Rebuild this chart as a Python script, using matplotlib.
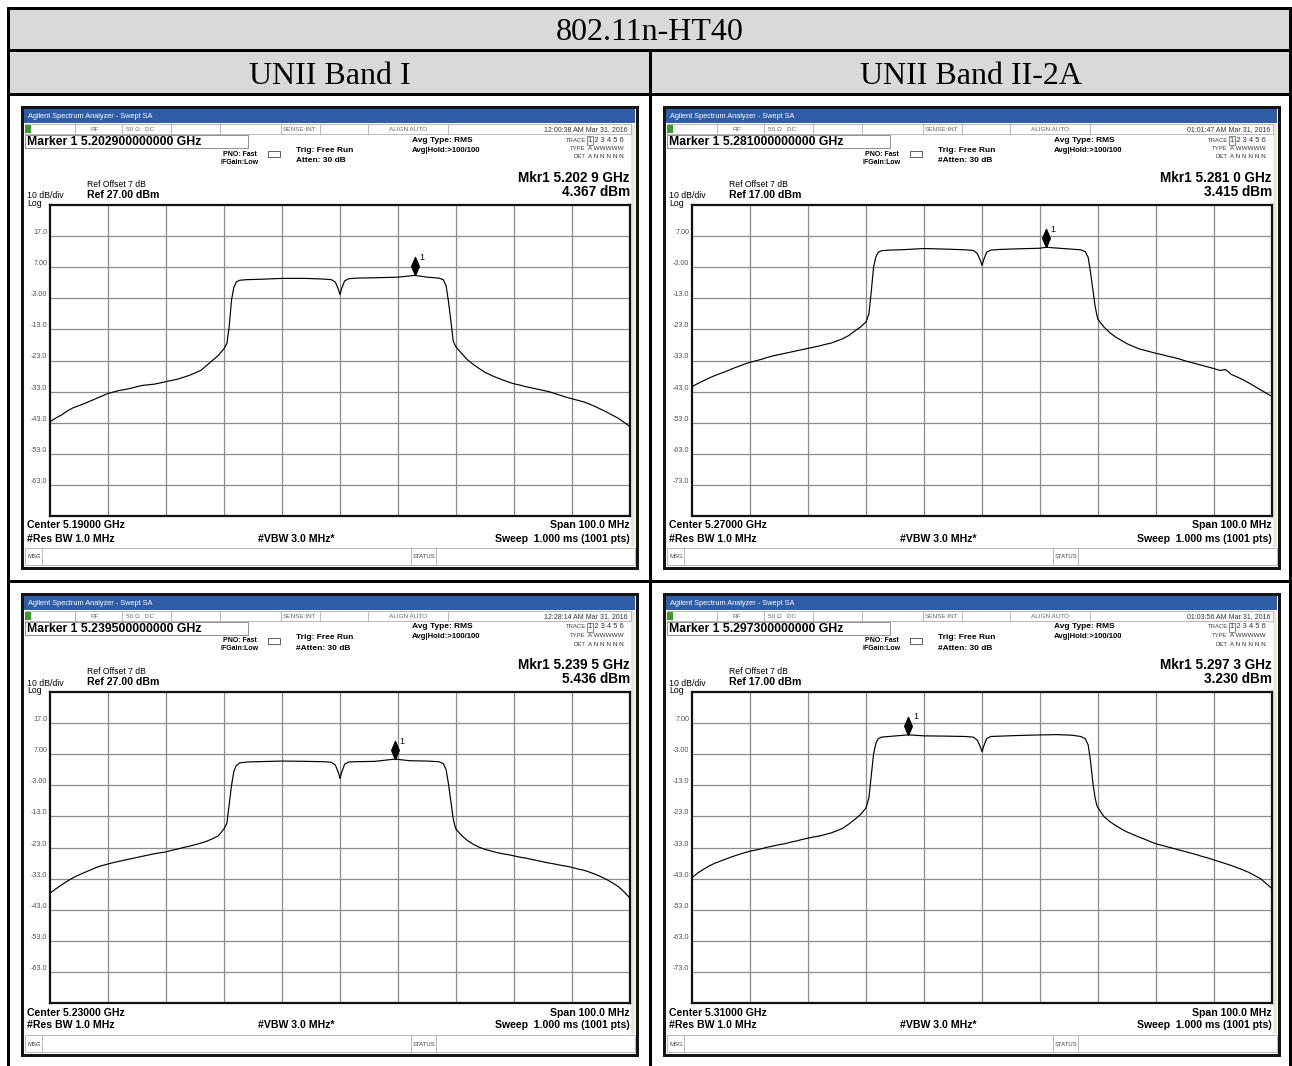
import matplotlib
matplotlib.use("Agg")
import matplotlib.pyplot as plt
from matplotlib.patches import Rectangle
from matplotlib.path import Path
import matplotlib.transforms as mtransforms

# ---------------- data ----------------
TABLE_TITLE = "802.11n-HT40"
BAND_TITLES = ["UNII Band I", "UNII Band II-2A"]

CENTERS_GHZ = [5.19, 5.27, 5.23, 5.31]
REF_LEVELS_DBM = [27.0, 17.0, 27.0, 17.0]
MARKER_FREQ_GHZ = [5.2029, 5.2810, 5.2395, 5.2973]
MARKER_LEVEL_DBM = [4.367, 3.415, 5.436, 3.230]
TIMESTAMPS = ["12:00:38 AM Mar 31, 2016", "01:01:47 AM Mar 31, 2016",
              "12:28:14 AM Mar 31, 2016", "01:03:56 AM Mar 31, 2016"]
ATTEN_TEXT = ["Atten: 30 dB", "#Atten: 30 dB", "#Atten: 30 dB", "#Atten: 30 dB"]
MARKER_TITLE = ["Marker 1 5.202900000000 GHz", "Marker 1 5.281000000000 GHz",
                "Marker 1 5.239500000000 GHz", "Marker 1 5.297300000000 GHz"]
MKR_FREQ_TEXT = ["Mkr1 5.202 9 GHz", "Mkr1 5.281 0 GHz", "Mkr1 5.239 5 GHz", "Mkr1 5.297 3 GHz"]
MKR_LEVEL_TEXT = ["4.367 dBm", "3.415 dBm", "5.436 dBm", "3.230 dBm"]
CENTER_TEXT = ["Center 5.19000 GHz", "Center 5.27000 GHz", "Center 5.23000 GHz", "Center 5.31000 GHz"]
REF_TEXT = ["Ref 27.00 dBm", "Ref 17.00 dBm", "Ref 27.00 dBm", "Ref 17.00 dBm"]

# trace readings (frequency offset from centre in MHz, level in dBm)
SKIRT_LEFT_MHZ = list(range(-50, -19))     # -50 ... -20, 1 MHz steps
SKIRT_RIGHT_MHZ = list(range(20, 51))      # 20 ... 50, 1 MHz steps

TL_SKIRT_LEFT = [-42.7, -41.5, -40.5, -39.2, -38.2, -37.5, -36.8, -36.0, -35.2, -34.4, -33.6, -33.1,
                 -32.6, -32.3, -31.9, -31.4, -31.0, -30.8, -30.6, -30.2, -29.8, -29.4, -29.0, -28.4,
                 -27.8, -27.0, -26.2, -24.6, -23.0, -21.4, -19.2]
TL_MID_MHZ = [-19.5, -19.1, -18.7, -18.3, -17.9, -17.3, -16, -14, -10, -6, -3, -1.5, -0.8, -0.3, 0,
              0.3, 0.8, 1.5, 3, 6, 10, 12.9, 15, 17, 17.8, 18.3, 18.7, 19.1, 19.5, 19.8]
TL_MID = [-17.5, -12.0, -3.5, 0.5, 2.2, 2.8, 3.0, 3.1, 3.4, 3.4, 3.2, 3.0, 2.2, 0.0, -1.8,
          0.2, 2.6, 3.3, 3.5, 3.6, 3.8, 4.37, 3.8, 3.5, 3.0, 1.0, -4.0, -10.0, -16.5, -18.0]
TL_SKIRT_RIGHT = [-18.6, -20.8, -22.8, -24.3, -25.6, -26.8, -27.7, -28.5, -29.2, -29.9, -30.5, -30.9,
                  -31.4, -31.8, -32.2, -32.6, -33.0, -33.6, -34.2, -34.8, -35.3, -35.8, -36.3, -37.0,
                  -37.8, -38.7, -39.6, -40.6, -41.6, -42.9, -44.3]

TR_SKIRT_LEFT = [-41.4, -40.4, -39.5, -38.6, -37.8, -37.1, -36.4, -35.6, -34.9, -34.2, -33.6, -33.1,
                 -32.6, -32.0, -31.5, -31.1, -30.7, -30.3, -29.9, -29.5, -29.1, -28.7, -28.3, -27.8,
                 -27.4, -26.7, -26.0, -25.0, -23.6, -22.3, -20.6]
TR_MID_MHZ = [-19.5, -19.1, -18.7, -18.3, -17.9, -17.3, -16, -14, -10, -6, -3, -1.5, -0.8, -0.3, 0,
              0.3, 0.8, 1.5, 3, 6, 10, 11, 14, 17, 17.8, 18.3, 18.7, 19.1, 19.5, 19.8]
TR_MID = [-18.0, -11.0, -3.0, 0.3, 1.8, 2.3, 2.5, 2.6, 3.0, 2.8, 2.6, 2.4, 1.4, -0.8, -2.4,
          -0.6, 1.8, 2.5, 2.7, 2.9, 3.1, 3.415, 3.0, 2.6, 2.0, 0.2, -4.5, -10.0, -15.5, -18.4]
TR_SKIRT_RIGHT = [-19.8, -22.2, -24.0, -25.4, -26.5, -27.6, -28.4, -29.2, -29.7, -30.2, -30.7, -31.1,
                  -31.6, -32.0, -32.5, -33.1, -33.6, -34.1, -34.6, -35.1, -35.6, -36.2, -35.9, -37.5,
                  -38.3, -39.2, -40.2, -41.3, -42.4, -43.5, -44.6]

BL_SKIRT_LEFT = [-37.7, -36.3, -35.0, -33.8, -32.7, -31.8, -31.0, -30.2, -29.4, -28.8, -28.3, -27.8,
                 -27.4, -27.0, -26.6, -26.2, -25.8, -25.4, -25.0, -24.7, -24.4, -23.9, -23.5, -23.0,
                 -22.6, -22.1, -21.6, -21.0, -20.2, -19.3, -17.0]
BL_MID_MHZ = [-19.5, -19.1, -18.7, -18.3, -17.9, -17.3, -16, -14, -10, -6, -3, -1.5, -0.8, -0.3, 0,
              0.3, 0.8, 1.5, 3, 6, 9.5, 12, 15, 17, 17.8, 18.3, 18.7, 19.1, 19.5, 19.8]
BL_MID = [-15.2, -9.0, -3.0, 1.5, 3.3, 4.2, 4.5, 4.6, 4.8, 4.7, 4.6, 4.4, 3.5, 1.2, -0.8,
          1.2, 3.8, 4.5, 4.6, 4.7, 5.436, 4.9, 4.8, 4.6, 4.0, 2.0, -2.5, -8.0, -13.5, -16.0]
BL_SKIRT_RIGHT = [-17.1, -19.2, -20.8, -22.0, -22.9, -23.6, -24.1, -24.6, -25.0, -25.3, -25.7, -26.1,
                  -26.4, -26.8, -27.2, -27.6, -28.0, -28.3, -28.7, -29.0, -29.4, -29.9, -30.3, -30.9,
                  -31.6, -32.4, -33.3, -34.4, -35.6, -37.3, -39.3]

BR_SKIRT_LEFT = [-42.7, -41.2, -40.0, -38.9, -38.0, -37.3, -36.6, -35.9, -35.3, -34.7, -34.2, -33.8,
                 -33.4, -32.9, -32.5, -32.1, -31.8, -31.3, -30.9, -30.4, -30.0, -29.6, -29.3, -28.8,
                 -28.3, -27.6, -26.8, -25.5, -24.1, -22.5, -20.3]
BR_MID_MHZ = [-19.5, -19.1, -18.7, -18.3, -17.9, -17.3, -16, -12.7, -10, -6, -3, -1.5, -0.8, -0.3, 0,
              0.3, 0.8, 1.5, 3, 6, 10, 13, 15.5, 17, 17.8, 18.3, 18.7, 19.1, 19.5, 19.8]
BR_MID = [-17.0, -10.0, -3.0, 0.5, 2.0, 2.5, 2.7, 3.23, 2.9, 2.8, 2.7, 2.5, 1.5, -0.6, -2.2,
          -0.4, 2.0, 2.7, 2.8, 3.0, 3.2, 3.3, 3.1, 2.7, 2.0, 0.0, -5.0, -12.0, -17.0, -19.5]
BR_SKIRT_RIGHT = [-20.2, -23.0, -24.6, -25.9, -27.0, -28.0, -28.8, -29.6, -30.3, -31.1, -31.8, -32.3,
                  -32.8, -33.3, -33.8, -34.3, -34.8, -35.3, -35.9, -36.4, -37.0, -37.6, -38.2, -38.8,
                  -39.5, -40.2, -41.0, -42.0, -43.0, -44.6, -46.2]

MID_OFFSETS = [TL_MID_MHZ, TR_MID_MHZ, BL_MID_MHZ, BR_MID_MHZ]
LEFT_LEVELS = [TL_SKIRT_LEFT, TR_SKIRT_LEFT, BL_SKIRT_LEFT, BR_SKIRT_LEFT]
MID_LEVELS = [TL_MID, TR_MID, BL_MID, BR_MID]
RIGHT_LEVELS = [TL_SKIRT_RIGHT, TR_SKIRT_RIGHT, BL_SKIRT_RIGHT, BR_SKIRT_RIGHT]

# ---------------- layout ----------------
W, H = 1292, 1066
fig = plt.figure(figsize=(W / 100, H / 100), dpi=100)
bg = fig.add_axes([0, 0, 1, 1], zorder=0)
bg.set_xlim(0, W)
bg.set_ylim(H, 0)
bg.axis("off")

SANS = ["Liberation Sans", "DejaVu Sans"]
SERIF = ["Liberation Serif", "DejaVu Serif"]
PX = 0.72  # points per pixel


def rect(x0, y0, x1, y1, fc="none", ec="none", lw=0.0, z=1):
    bg.add_patch(Rectangle((x0, y0), x1 - x0, y1 - y0, facecolor=fc, edgecolor=ec,
                           linewidth=lw, zorder=z))


def line(x0, y0, x1, y1, color="black", lw=1.0, z=2):
    bg.plot([x0, x1], [y0, y1], color=color, linewidth=lw, zorder=z, solid_capstyle="projecting")


def txt(x, y, s, size=7, weight="normal", ha="left", va="center", color="black", family=SANS, z=5):
    bg.text(x, y, s, fontsize=size, fontweight=weight, ha=ha, va=va, color=color,
            family=family, zorder=z)


# table header
rect(8, 8, 1290, 94, fc="#d9d9d9")
for (a, b, c, d) in [(8, 8, 1290, 8), (8, 50, 1290, 50), (8, 94, 1290, 94), (8, 581, 1290, 581),
                     (8, 8, 8, 1066), (1290, 8, 1290, 1066), (650, 50, 650, 1066)]:
    line(a, b, c, d, lw=3 * PX)
txt(650, 32, TABLE_TITLE, size=23, family=SERIF, ha="center")
txt(330, 76, BAND_TITLES[0], size=23, family=SERIF, ha="center")
txt(971, 76, BAND_TITLES[1], size=23, family=SERIF, ha="center")

ORIGINS = [(22, 107), (664, 107), (22, 594), (664, 594)]
PW, PHT = 615, 461
PLOT_L, PLOT_T, PLOT_W, PLOT_H = 28, 98, 580, 311

diamond = Path([(0, -1), (0.42, 0), (0, 1), (-0.42, 0), (0, -1)],
               [Path.MOVETO, Path.LINETO, Path.LINETO, Path.LINETO, Path.CLOSEPOLY])


def fmt_tick(v):
    return f"{v:.2f}" if abs(v) < 10 else f"{v:.1f}"


for i, (ox, oy) in enumerate(ORIGINS):
    # frame
    rect(ox, oy, ox + PW, oy + PHT, fc="white", ec="#151515", lw=3 * PX, z=1)
    rect(ox + 609, oy + 17, ox + 613, oy + 440, fc="#ece9d8", z=1.5)
    # title bar
    rect(ox + 2, oy + 2, ox + PW - 2, oy + 16, fc="#2f5da6", z=1.5)
    txt(ox + 6, oy + 9.5, "Agilent Spectrum Analyzer - Swept SA", size=5.3, color="white")
    # status row
    rect(ox + 3, oy + 17, ox + 609, oy + 27, fc="white", ec="#a0a0a0", lw=0.5, z=1.6)
    rect(ox + 3, oy + 18, ox + 9, oy + 26, fc="#3a9a2a", z=1.7)
    for dx in [53, 100, 149, 198, 259, 298, 346, 426]:
        line(ox + dx, oy + 17, ox + dx, oy + 27, color="#a0a0a0", lw=0.5)
    txt(ox + 73, oy + 22.5, "RF", size=4.6, color="#666666", ha="center")
    txt(ox + 104, oy + 22.5, "50 Ω   DC", size=4.6, color="#666666")
    txt(ox + 278, oy + 22.5, "SENSE:INT", size=4.6, color="#666666", ha="center")
    txt(ox + 386, oy + 22.5, "ALIGN AUTO", size=4.6, color="#666666", ha="center")
    txt(ox + 606, oy + 22.5, TIMESTAMPS[i], size=5, color="#333333", ha="right")
    # marker box
    rect(ox + 3, oy + 28, ox + 226, oy + 41, fc="white", ec="#909090", lw=0.7, z=1.6)
    txt(ox + 5, oy + 35, MARKER_TITLE[i], size=8.8, weight="bold")
    txt(ox + 218, oy + 47, "PNO: Fast", size=5, weight="bold", ha="center")
    txt(ox + 218, oy + 55, "IFGain:Low", size=5, weight="bold", ha="center")
    rect(ox + 246, oy + 44, ox + 258, oy + 50, fc="white", ec="#444444", lw=0.6, z=1.6)
    txt(ox + 274, oy + 43.5, "Trig: Free Run", size=6, weight="bold")
    txt(ox + 274, oy + 54, ATTEN_TEXT[i], size=6, weight="bold")
    txt(ox + 420, oy + 33, "Avg Type: RMS", size=6, weight="bold", ha="center")
    txt(ox + 424, oy + 43, "Avg|Hold:>100/100", size=5.6, weight="bold", ha="center")
    # trace table
    txt(ox + 564, oy + 33, "TRACE", size=4.3, color="#444444", ha="right")
    txt(ox + 564, oy + 41.5, "TYPE", size=4.3, color="#444444", ha="right")
    txt(ox + 564, oy + 50, "DET", size=4.3, color="#444444", ha="right")
    rect(ox + 565, oy + 28.5, ox + 571, oy + 37.5, fc="white", ec="#39a030", lw=0.6, z=1.6)
    txt(ox + 566.5, oy + 33, "1 2 3 4 5 6", size=5.4, color="#333333")
    txt(ox + 566.5, oy + 41.5, "A WWWWW", size=4.6, color="#333333")
    txt(ox + 566.5, oy + 50, "A N N N N N", size=4.6, color="#333333")
    # marker readout
    txt(ox + 608, oy + 71, MKR_FREQ_TEXT[i], size=9.8, weight="bold", ha="right")
    txt(ox + 608, oy + 85, MKR_LEVEL_TEXT[i], size=9.8, weight="bold", ha="right")
    txt(ox + 65, oy + 77.5, "Ref Offset 7 dB", size=6.2)
    txt(ox + 65, oy + 88, REF_TEXT[i], size=7.6, weight="bold")
    txt(ox + 5, oy + 89, "10 dB/div", size=6.3)
    txt(ox + 5, oy + 96.5, "Log", size=6.3)
    # footer
    txt(ox + 5, oy + 418.5, CENTER_TEXT[i], size=7.6, weight="bold")
    txt(ox + 608, oy + 418.5, "Span 100.0 MHz", size=7.6, weight="bold", ha="right")
    txt(ox + 5, oy + 431.5, "#Res BW 1.0 MHz", size=7.6, weight="bold")
    txt(ox + 236, oy + 431.5, "#VBW 3.0 MHz*", size=7.6, weight="bold")
    txt(ox + 608, oy + 431.5, "Sweep  1.000 ms (1001 pts)", size=7.6, weight="bold", ha="right")
    rect(ox + 3, oy + 441, ox + 613, oy + 458, fc="white", ec="#a0a0a0", lw=0.5, z=1.6)
    line(ox + 20, oy + 441, ox + 20, oy + 458, color="#a0a0a0", lw=0.5)
    line(ox + 389, oy + 441, ox + 389, oy + 458, color="#a0a0a0", lw=0.5)
    line(ox + 414, oy + 441, ox + 414, oy + 458, color="#a0a0a0", lw=0.5)
    txt(ox + 5, oy + 450, "MSG", size=4.3, color="#444444")
    txt(ox + 391, oy + 450, "STATUS", size=4.3, color="#444444")

    # spectrum plot
    ax = fig.add_axes([(ox + PLOT_L) / W, 1 - (oy + PLOT_T + PLOT_H) / H, PLOT_W / W, PLOT_H / H],
                      zorder=2)
    cf = CENTERS_GHZ[i]
    ref = REF_LEVELS_DBM[i]
    ax.set_xlim(cf - 0.05, cf + 0.05)
    ax.set_ylim(ref - 100, ref)
    ax.set_xticks([cf - 0.05 + 0.01 * k for k in range(1, 10)])
    yt = [ref - 10 * k for k in range(1, 10)]
    ax.set_yticks(yt)
    ax.set_yticklabels([fmt_tick(v) for v in yt], fontsize=5.2, color="#555555", family=SANS)
    ax.tick_params(axis="x", length=0, labelbottom=False)
    ax.tick_params(axis="y", length=0, pad=2)
    for lab in ax.get_yticklabels():
        lab.set_verticalalignment("bottom")
    ax.grid(True, color="#8c8c8c", linewidth=0.9)
    ax.set_axisbelow(True)
    for s in ax.spines.values():
        s.set_linewidth(1.6)
        s.set_color("#111111")
    offsets = SKIRT_LEFT_MHZ + MID_OFFSETS[i] + SKIRT_RIGHT_MHZ
    levels = LEFT_LEVELS[i] + MID_LEVELS[i] + RIGHT_LEVELS[i]
    freqs = [cf + o / 1000.0 for o in offsets]
    ax.plot(freqs, levels, color="black", linewidth=0.85, zorder=3)
    mtr = ax.transData + mtransforms.ScaledTranslation(0, 0.09, fig.dpi_scale_trans)
    ax.plot([MARKER_FREQ_GHZ[i]], [MARKER_LEVEL_DBM[i]], marker=diamond, markersize=13,
            color="black", linestyle="none", transform=mtr, zorder=4, clip_on=False)
    ax.annotate("1", xy=(MARKER_FREQ_GHZ[i], MARKER_LEVEL_DBM[i]), xytext=(7, 18),
                textcoords="offset pixels", fontsize=6.5, ha="center", va="center", family=SANS)

fig.savefig("out.png", dpi=100)
